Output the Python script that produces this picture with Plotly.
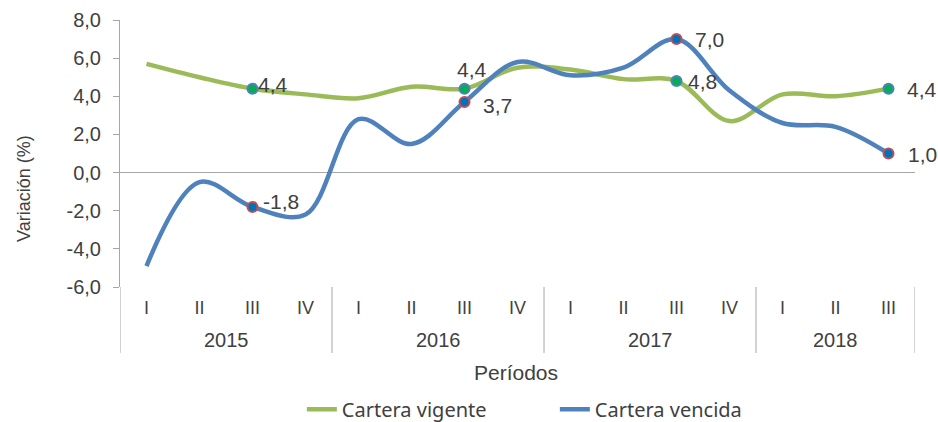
import plotly.graph_objects as go

years = ["2015", "2016", "2017", "2018"]
quarters_per_year = [4, 4, 4, 3]
quarter_names = ["I", "II", "III", "IV"]

vigente = [5.7, 5.0, 4.4, 4.1, 3.9, 4.5, 4.4, 5.5, 5.4, 4.9, 4.8, 2.7, 4.1, 4.0, 4.4]
vencida = [-4.9, -0.5, -1.8, -2.2, 2.8, 1.5, 3.7, 5.8, 5.1, 5.5, 7.0, 4.3, 2.6, 2.4, 1.0]

y_ticks = [-6, -4, -2, 0, 2, 4, 6, 8]

# points that carry a marker + data label (index of period)
label_idx = [2, 6, 10, 14]

GREEN = "#9bbb59"
BLUE = "#4f81bd"
TXT = "#404040"
AX = "#a6a6a6"
FONT = "Liberation Sans, Arial, sans-serif"


def fmt(v):
    return f"{v:.1f}".replace(".", ",")


quarters = []
for n in quarters_per_year:
    quarters += quarter_names[:n]
xs = list(range(len(quarters)))

fig = go.Figure()
fig.add_trace(go.Scatter(
    x=xs, y=vigente, name="Cartera vigente", mode="lines",
    line=dict(color=GREEN, width=4.5, shape="spline", smoothing=1.0),
))
fig.add_trace(go.Scatter(
    x=xs, y=vencida, name="Cartera vencida", mode="lines",
    line=dict(color=BLUE, width=4.5, shape="spline", smoothing=1.0),
))
fig.add_trace(go.Scatter(
    x=label_idx, y=[vigente[i] for i in label_idx], mode="markers", showlegend=False,
    marker=dict(size=10, color="#00b050", line=dict(color=BLUE, width=2)),
))
fig.add_trace(go.Scatter(
    x=label_idx, y=[vencida[i] for i in label_idx], mode="markers", showlegend=False,
    marker=dict(size=10, color="#0070c0", line=dict(color="#c0504d", width=2)),
))

annotations = []
# label placement (xanchor, xshift, yshift) per labeled point
vig_place = [("left", 3, 4), ("center", 7, 19), ("left", 9, 0), ("left", 16, -1)]
ven_place = [("left", 8, 5), ("left", 16, -3), ("left", 16, 0), ("left", 17, -1)]
for i, (xa, dx, dy) in zip(label_idx, vig_place):
    annotations.append(dict(x=i, y=vigente[i], xref="x", yref="y", text=fmt(vigente[i]),
                            showarrow=False, xanchor=xa, yanchor="middle", xshift=dx, yshift=dy,
                            font=dict(size=21, color=TXT, family=FONT)))
for i, (xa, dx, dy) in zip(label_idx, ven_place):
    annotations.append(dict(x=i, y=vencida[i], xref="x", yref="y", text=fmt(vencida[i]),
                            showarrow=False, xanchor=xa, yanchor="middle", xshift=dx, yshift=dy,
                            font=dict(size=21, color=TXT, family=FONT)))

# year group labels and dividers
shapes = []
start = 0
bounds = [-0.5]
for yr, n in zip(years, quarters_per_year):
    center = start + (n - 1) / 2
    annotations.append(dict(x=center, y=-0.198, xref="x", yref="paper", text=yr,
                            showarrow=False, xanchor="center", yanchor="middle",
                            font=dict(size=20, color=TXT, family=FONT)))
    start += n
    bounds.append(start - 0.5)
for b in bounds:
    shapes.append(dict(type="line", xref="x", yref="paper", x0=b, x1=b, y0=0, y1=-0.247,
                       line=dict(color=AX, width=1)))

annotations.append(dict(x=0.4975, y=-0.322, xref="paper", yref="paper", text="Períodos",
                        showarrow=False, xanchor="center", yanchor="middle",
                        font=dict(size=21, color=TXT, family=FONT)))
annotations.append(dict(x=-0.121, y=0.37, xref="paper", yref="paper", text="Variación (%)",
                        showarrow=False, xanchor="center", yanchor="middle", textangle=-90,
                        font=dict(size=18, color=TXT, family=FONT)))

fig.update_layout(
    width=938, height=422,
    margin=dict(l=120, r=23, t=20, b=135),
    plot_bgcolor="white", paper_bgcolor="white",
    font=dict(family=FONT, size=17, color=TXT),
    showlegend=True,
    legend=dict(orientation="h", x=0.547, xanchor="center",
                yref="container", y=0.03, yanchor="middle",
                font=dict(size=20, color=TXT, family="Noto Sans, Open Sans, sans-serif"),
                entrywidth=208),
    annotations=annotations,
    shapes=shapes,
    xaxis=dict(
        range=[-0.5, len(quarters) - 0.5], tickmode="array", tickvals=xs, ticktext=quarters,
        showline=False, showgrid=False, zeroline=False, ticks="",
        ticklabelstandoff=8, automargin=False,
        tickfont=dict(size=18, color=TXT, family=FONT),
    ),
    yaxis=dict(
        range=[-6, 8], tickmode="array", tickvals=y_ticks, ticktext=[fmt(v) for v in y_ticks],
        showline=True, linecolor=AX, linewidth=1,
        ticks="outside", ticklen=6, tickcolor=AX, ticklabelstandoff=8,
        showgrid=False, zeroline=True, zerolinecolor=AX, zerolinewidth=1,
        automargin=False,
        tickfont=dict(size=20, color=TXT, family=FONT),
    ),
)

fig.write_html("out.html", config={"displayModeBar": False},
               post_script="document.body.style.margin='0';")
